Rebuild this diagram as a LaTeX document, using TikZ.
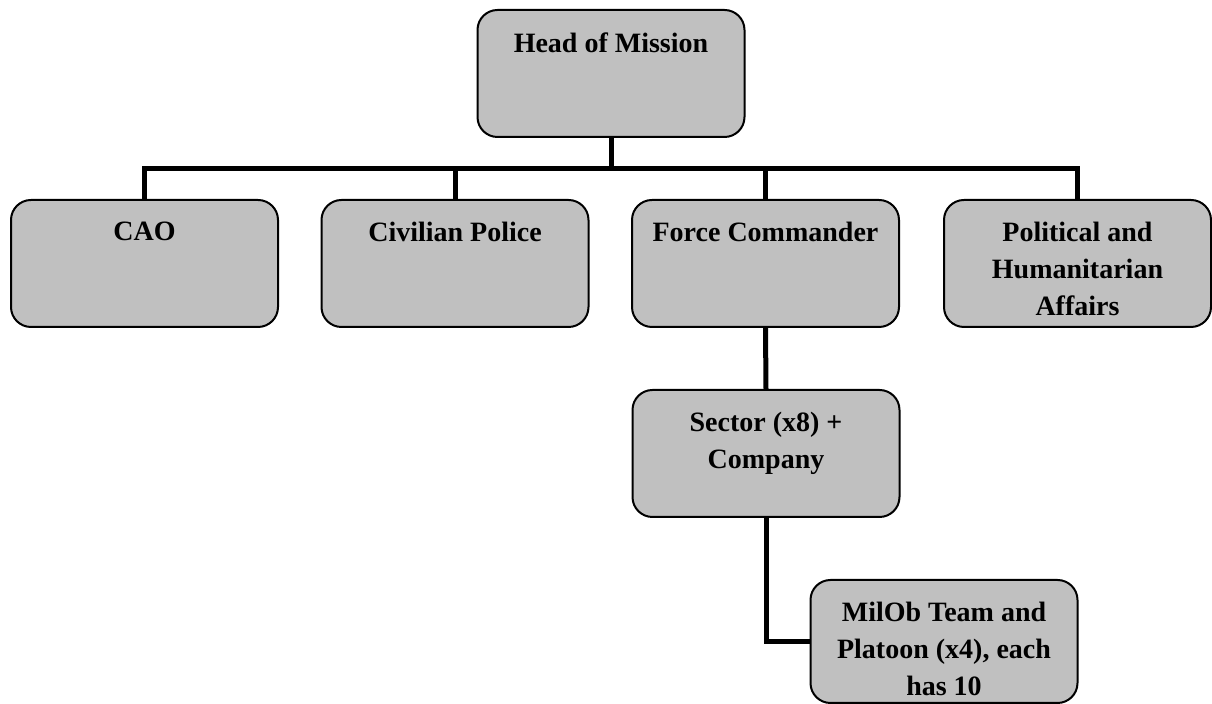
\documentclass[tikz,border=0pt]{standalone}
\usepackage{fontspec}
\setmainfont{Liberation Serif}
\definecolor{boxgray}{RGB}{192,192,192}
\tikzset{
    unit/.style={draw, line width=1pt, fill=boxgray, rounded corners=10pt,
        minimum width=133.5pt, minimum height=63.5pt, inner sep=0pt},
    txt/.style={anchor=north, align=center, inner sep=0pt,
        font=\bfseries\fontsize{14}{18.5}\selectfont},
    link/.style={line width=2.5pt}
}
\begin{document}
\begin{tikzpicture}[x=0.5pt, y=-0.5pt]
            \useasboundingbox (0,0) rectangle (1212,704);

            % boxes
            \node[unit] (hom) at (611,73.5) {};
            \node[unit] (cao) at (144.5,263.5) {};
            \node[unit] (civ) at (455,263.5) {};
            \node[unit] (fc) at (765.5,263.5) {};
            \node[unit] (pha) at (1077.5,263.5) {};
            \node[unit] (sec) at (766,453.5) {};
            \node[unit, minimum height=61.5pt] (mil) at (944,641.5) {};

            % connectors
            \foreach \b in {cao,civ,fc,pha}
                \draw[link] (hom.south) -- ++(0,31) -| (\b.north);
            \draw[link] (fc.south) -- (sec.north);
            \draw[link] (sec.south) |- (mil.west);

            % texts
            \node[txt] (hom-t) at ([yshift=-11.5pt]hom.north) {Head of Mission};
            \node[txt] (cao-t) at ([yshift=-11.5pt]cao.north) {CAO};
            \node[txt] (civ-t) at ([yshift=-11.5pt]civ.north) {Civilian Police};
            \node[txt] (fc-t) at ([yshift=-11.5pt]fc.north) {Force Commander};
            \node[txt] (pha-t) at ([yshift=-11.5pt]pha.north) {Political and\\Humanitarian\\Affairs};
            \node[txt] (sec-t) at ([yshift=-11.5pt]sec.north) {Sector (x8) +\\Company};
            \node[txt] (mil-t) at ([yshift=-11.5pt]mil.north) {MilOb Team and\\Platoon (x4), each\\has 10};
        \end{tikzpicture}
\end{document}
